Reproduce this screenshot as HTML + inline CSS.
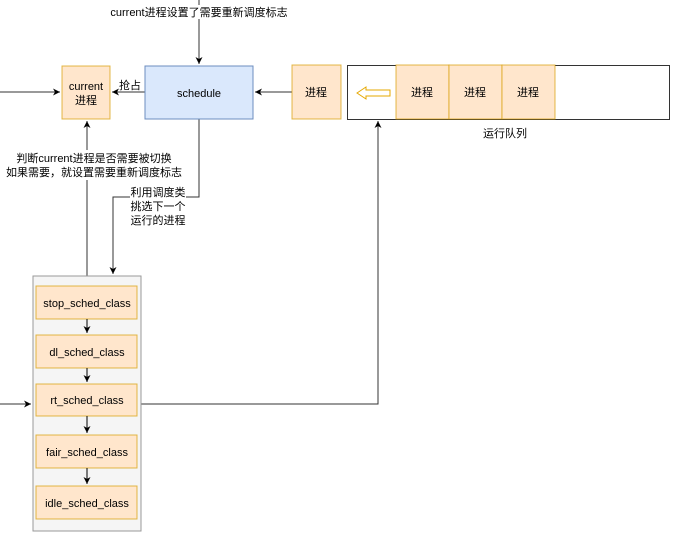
<!DOCTYPE html>
<html><head><meta charset="utf-8"><style>
body{margin:0;background:#fff;width:691px;height:549px;overflow:hidden}
text{font-family:"Liberation Sans","Noto Sans CJK SC",sans-serif;font-size:11px;fill:#000}
</style></head><body>
<svg width="691" height="549" xmlns="http://www.w3.org/2000/svg">
<defs><marker id="a" markerWidth="8" markerHeight="8" refX="7" refY="4" orient="auto" markerUnits="userSpaceOnUse"><path d="M0,0.5 L7,4 L0,7.5 L2,4z" fill="#000"/></marker></defs>
<g stroke="#333" fill="none" stroke-width="1">
<line x1="199" y1="0" x2="199" y2="64" marker-end="url(#a)"/>
<line x1="0" y1="92" x2="60" y2="92" marker-end="url(#a)"/>
<line x1="145" y1="92" x2="112" y2="92" marker-end="url(#a)"/>
<line x1="292" y1="92" x2="255" y2="92" marker-end="url(#a)"/>
<line x1="87" y1="276" x2="87" y2="121" marker-end="url(#a)"/>
<polyline points="199,119 199,197 113,197 113,274" marker-end="url(#a)"/>
<line x1="0" y1="404" x2="31" y2="404" marker-end="url(#a)"/>
<polyline points="141,404 378,404 378,121" marker-end="url(#a)"/>
</g>
<rect x="62" y="66" width="48" height="53" fill="#ffe6cc" stroke="#d79b00" stroke-opacity="0.7"/>
<rect x="145" y="66" width="108" height="53" fill="#dae8fc" stroke="#6c8ebf"/>
<rect x="292" y="65" width="49" height="54" fill="#ffe6cc" stroke="#d79b00" stroke-opacity="0.7"/>
<rect x="347.5" y="65.5" width="322" height="54" fill="#fff" stroke="#333"/>
<rect x="396" y="65" width="53" height="54" fill="#ffe6cc" stroke="#d79b00" stroke-opacity="0.7"/>
<rect x="449" y="65" width="53" height="54" fill="#ffe6cc" stroke="#d79b00" stroke-opacity="0.7"/>
<rect x="502" y="65" width="53" height="54" fill="#ffe6cc" stroke="#d79b00" stroke-opacity="0.7"/>
<path d="M357,93 L366,87 L366,90 L390,90 L390,96 L366,96 L366,99 Z" fill="#fff" stroke="#e6a800"/>
<rect x="33" y="276" width="108" height="255" fill="#f5f5f5" stroke="#999"/>
<g fill="#ffe6cc" stroke="#d79b00" stroke-opacity="0.7">
<rect x="36" y="286" width="101" height="33"/><rect x="36" y="335" width="101" height="33"/>
<rect x="36" y="384" width="101" height="32"/><rect x="36" y="435" width="101" height="33"/>
<rect x="36" y="486" width="101" height="33"/></g>
<g stroke="#000" marker-end="url(#a)">
<line x1="87" y1="319" x2="87" y2="333"/><line x1="87" y1="368" x2="87" y2="382"/>
<line x1="87" y1="416" x2="87" y2="433"/><line x1="87" y1="468" x2="87" y2="484"/></g>
<rect x="110" y="5" width="180" height="14" fill="#fff"/>
<text x="199" y="16" text-anchor="middle">current进程设置了需要重新调度标志</text>
<text x="86" y="90" text-anchor="middle">current</text>
<text x="86" y="104" text-anchor="middle">进程</text>
<text x="130" y="89" text-anchor="middle">抢占</text>
<text x="199" y="97" text-anchor="middle">schedule</text>
<text x="316" y="96" text-anchor="middle">进程</text>
<text x="422" y="96" text-anchor="middle">进程</text>
<text x="475" y="96" text-anchor="middle">进程</text>
<text x="528" y="96" text-anchor="middle">进程</text>
<text x="505" y="137" text-anchor="middle">运行队列</text>
<rect x="0" y="150" width="190" height="30" fill="#fff"/>
<text x="94" y="162" text-anchor="middle">判断current进程是否需要被切换</text>
<text x="94" y="176" text-anchor="middle">如果需要，就设置需要重新调度标志</text>
<rect x="130" y="187" width="56" height="40" fill="#fff"/>
<text x="158" y="196" text-anchor="middle">利用调度类</text>
<text x="158" y="210" text-anchor="middle">挑选下一个</text>
<text x="158" y="224" text-anchor="middle">运行的进程</text>
<text x="87" y="307" text-anchor="middle">stop_sched_class</text>
<text x="87" y="356" text-anchor="middle">dl_sched_class</text>
<text x="87" y="404" text-anchor="middle">rt_sched_class</text>
<text x="87" y="456" text-anchor="middle">fair_sched_class</text>
<text x="87" y="507" text-anchor="middle">idle_sched_class</text>
</svg>
</body></html>
